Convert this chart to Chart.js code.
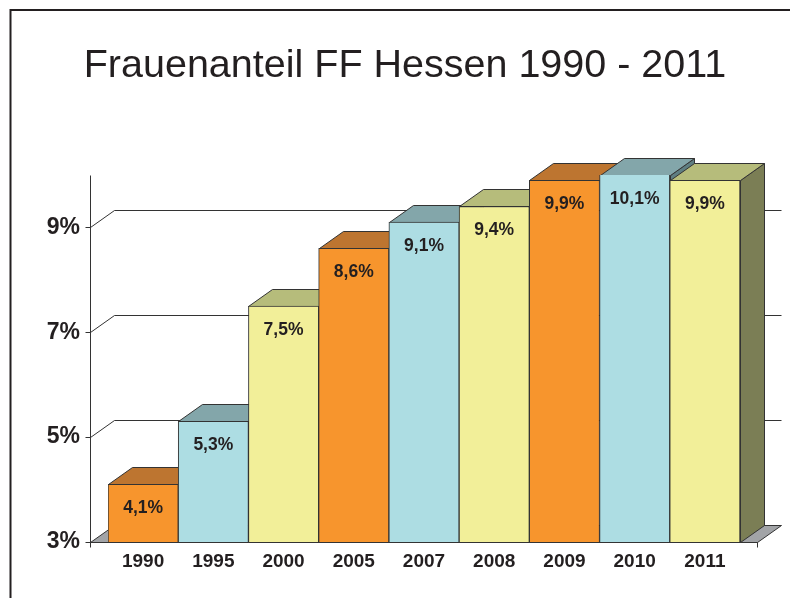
<!DOCTYPE html>
<html>
<head>
<meta charset="utf-8">
<title>Frauenanteil FF Hessen</title>
<script src="https://cdn.jsdelivr.net/npm/chart.js@4.4.1/dist/chart.umd.min.js"></script>
<style>
  html, body { margin: 0; padding: 0; background: #fff; }
</style>
</head>
<body>
<canvas id="chart" width="790" height="598"></canvas>
<script>
// Frauenanteil in den Freiwilligen Feuerwehren Hessen, Prozent
const years = ['1990', '1995', '2000', '2005', '2007', '2008', '2009', '2010', '2011'];
const shares = [4.1, 5.3, 7.5, 8.6, 9.1, 9.4, 9.9, 10.1, 9.9];
const yTicks = [3, 5, 7, 9];
const yMin = 3;
const yMax = 10;

// front, top and side face of each bar colour
const palette = {
    orange: ['#F7952D', '#BD7530', '#8E5820'],
    blue: ['#ADDDE3', '#83A6AA', '#5F7E82'],
    yellow: ['#F2EF99', '#B6BC7B', '#7B7E55']
};
const barColors = ['orange', 'blue', 'yellow', 'orange', 'blue', 'yellow', 'orange', 'blue', 'yellow'];

const TEXT = '#231F20';
const EDGE = '#333333';
const FONT = '"Liberation Sans", Arial, sans-serif';
const DX = 24, DY = -17;      // depth of the 3d look
const WALL_LEFT = 18;         // axis sits this far left of the first bar
const WALL_RIGHT = 17;

const fmt = v => v.toFixed(1).replace('.', ',') + '%';
const crisp = v => Math.round(v) + 0.5;

const poly = (ctx, pts, fill) => {
    ctx.beginPath();
    ctx.moveTo(pts[0][0], pts[0][1]);
    pts.slice(1).forEach(p => ctx.lineTo(p[0], p[1]));
    ctx.closePath();
    if (fill) {
        ctx.fillStyle = fill;
        ctx.fill();
    }
    ctx.stroke();
};

const depthPlugin = {
    id: 'depth',
    beforeDraw(chart) {
        const ctx = chart.ctx;
        ctx.save();
        // frame
        ctx.strokeStyle = TEXT;
        ctx.lineWidth = 2;
        ctx.beginPath();
        ctx.moveTo(10.5, 598);
        ctx.lineTo(10.5, 10);
        ctx.lineTo(790, 10);
        ctx.stroke();
        // title
        ctx.fillStyle = TEXT;
        ctx.font = '39.5px ' + FONT;
        ctx.textAlign = 'center';
        ctx.textBaseline = 'alphabetic';
        ctx.fillText('Frauenanteil FF Hessen 1990 - 2011', 405, 77);
        ctx.restore();
    },
    beforeDatasetsDraw(chart) {
        const { ctx, chartArea: a, scales: { y } } = chart;
        const x0 = crisp(a.left - WALL_LEFT);
        const x1 = crisp(a.right + WALL_RIGHT);
        const yb = crisp(y.getPixelForValue(yMin));
        const yt = crisp(y.getPixelForValue(yMax));

        ctx.save();
        ctx.lineWidth = 1;
        ctx.strokeStyle = EDGE;

        // floor
        poly(ctx, [[x0, yb], [x1, yb], [x1 + DX, yb + DY], [x0 + DX, yb + DY]], '#A2A4A7');

        // gridlines on side and back wall
        yTicks.forEach(v => {
            if (v === yMin) return;
            const py = crisp(y.getPixelForValue(v));
            ctx.beginPath();
            ctx.moveTo(x0, py);
            ctx.lineTo(x0 + DX, py + DY);
            ctx.lineTo(x1 + DX, py + DY);
            ctx.stroke();
        });

        // axes and tick marks
        ctx.beginPath();
        ctx.moveTo(x0, yt);
        ctx.lineTo(x0, yb);
        ctx.lineTo(x1, yb);
        yTicks.forEach(v => {
            const py = crisp(y.getPixelForValue(v));
            ctx.moveTo(x0 - 5, py);
            ctx.lineTo(x0, py);
        });
        ctx.moveTo(x0, yb);
        ctx.lineTo(x0, yb + 5);
        ctx.moveTo(x1, yb);
        ctx.lineTo(x1, yb + 5);
        ctx.stroke();

        // side and top faces, left to right; the front faces come after
        const meta = chart.getDatasetMeta(0);
        meta.data.forEach((bar, i) => {
            const faces = palette[barColors[i]];
            const top = crisp(y.getPixelForValue(Math.min(shares[i], yMax)));
            const l = crisp(bar.x - bar.width / 2);
            const r = crisp(bar.x + bar.width / 2);
            poly(ctx, [[r, top], [r + DX, top + DY], [r + DX, yb + DY], [r, yb]], faces[2]);
            poly(ctx, [[l, top], [r, top], [r + DX, top + DY], [l + DX, top + DY]], faces[1]);
        });
        ctx.restore();
    },
    afterDatasetsDraw(chart) {
        const { ctx, scales: { y } } = chart;
        const meta = chart.getDatasetMeta(0);
        ctx.save();
        ctx.fillStyle = TEXT;
        ctx.font = 'bold 17.5px ' + FONT;
        ctx.textAlign = 'center';
        ctx.textBaseline = 'middle';
        meta.data.forEach((bar, i) => {
            const top = y.getPixelForValue(Math.min(shares[i], yMax));
            ctx.fillText(fmt(shares[i]), bar.x, top + 24);
        });
        ctx.restore();
    }
};

new Chart(document.getElementById('chart'), {
    type: 'bar',
    data: {
        labels: years,
        datasets: [{
            data: shares,
            backgroundColor: barColors.map(c => palette[c][0]),
            borderColor: EDGE,
            borderWidth: 1,
            borderSkipped: false,
            barPercentage: 1,
            categoryPercentage: 1,
            clip: 0
        }]
    },
    options: {
        responsive: false,
        animation: false,
        layout: { padding: { top: 175, right: 50, bottom: 0, left: 0 } },
        plugins: {
            legend: { display: false },
            tooltip: { enabled: false }
        },
        scales: {
            x: {
                grid: { display: false, drawTicks: false },
                border: { display: false },
                ticks: {
                    color: TEXT,
                    padding: 8,
                    font: { family: FONT, size: 19, weight: 'bold' }
                },
                afterFit: s => { s.height = 56; }
            },
            y: {
                min: yMin,
                max: yMax,
                grid: { display: false, drawTicks: false },
                border: { display: false },
                afterBuildTicks: s => { s.ticks = yTicks.map(v => ({ value: v })); },
                ticks: {
                    color: TEXT,
                    padding: 28,
                    font: { family: FONT, size: 23, weight: 'bold' },
                    callback: v => v + '%'
                },
                afterFit: s => { s.width = 108; }
            }
        }
    },
    plugins: [depthPlugin]
});
</script>
</body>
</html>
